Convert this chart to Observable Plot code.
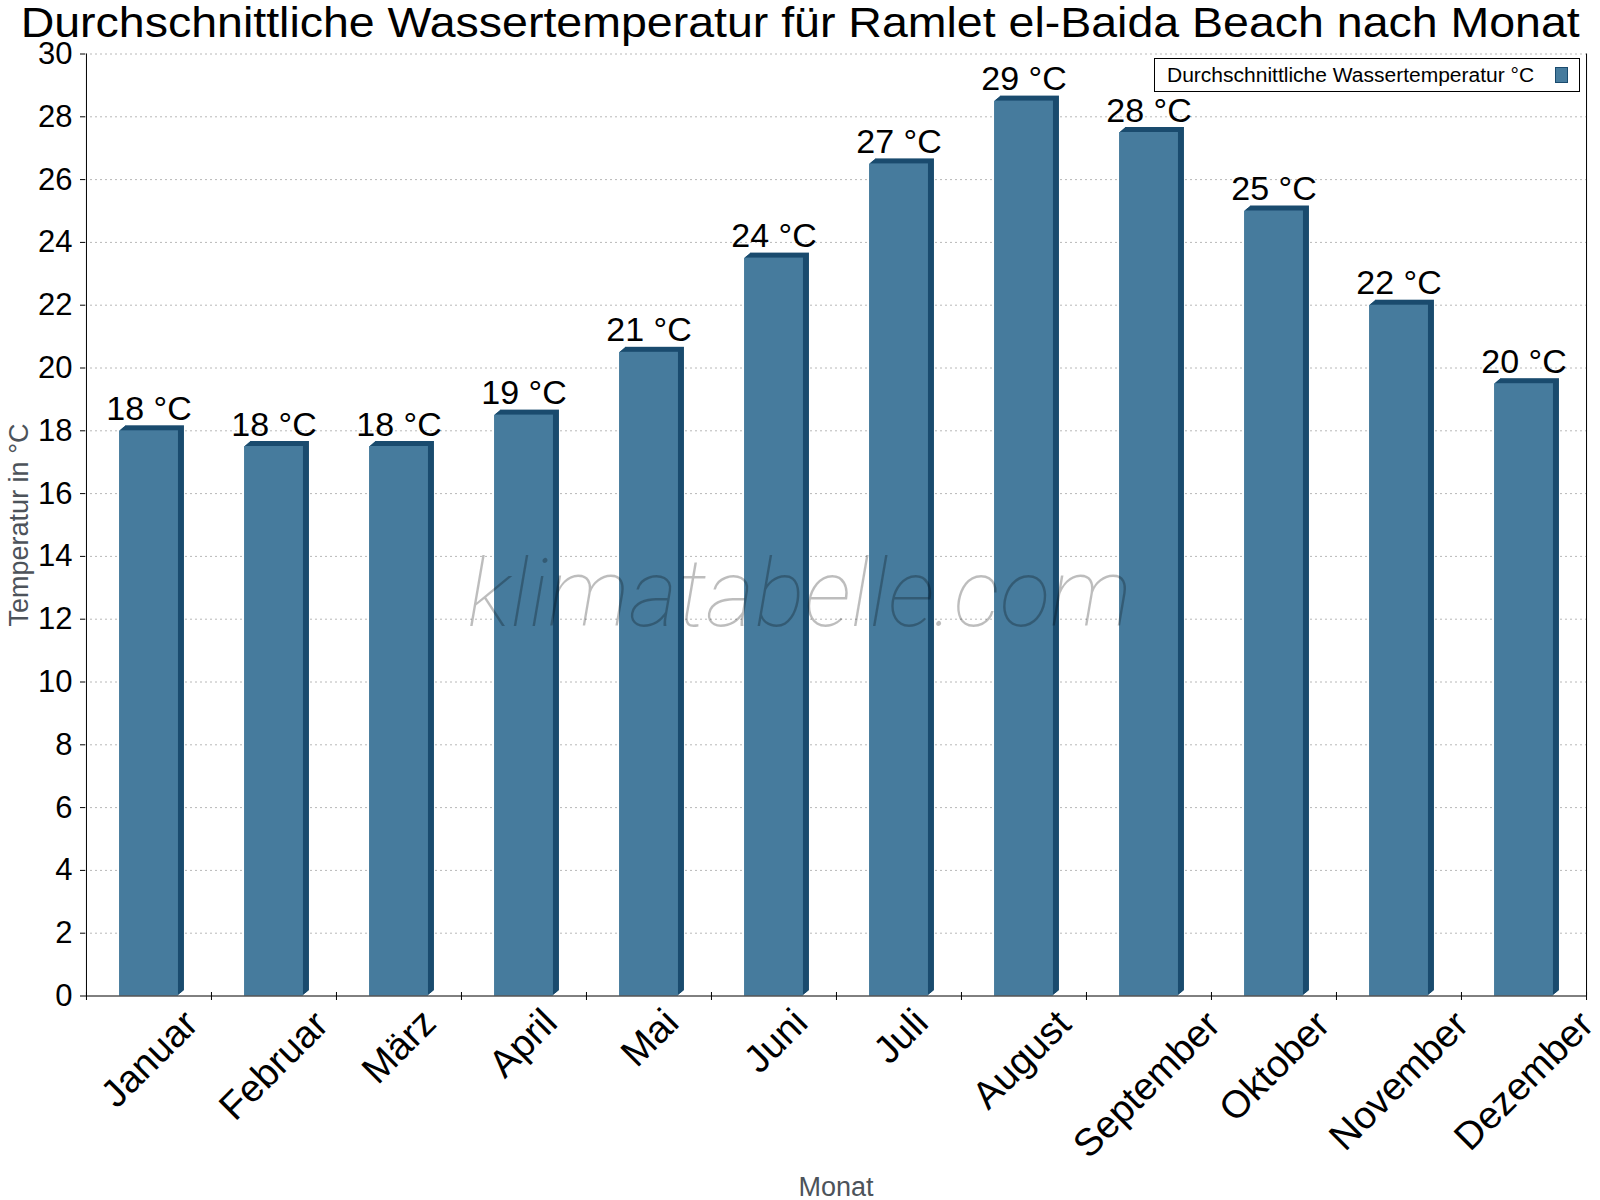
<!DOCTYPE html>
<html><head><meta charset="utf-8">
<script src="https://cdn.jsdelivr.net/npm/d3@7"></script>
<script src="https://cdn.jsdelivr.net/npm/@observablehq/plot@0.6"></script>
<style>
body{margin:0;background:#fff;font-family:"Liberation Sans",Arial,sans-serif;}
#wrap{position:relative;width:1600px;height:1200px;background:#fff}
#title{height:45px;line-height:45px;font-size:42px;text-align:center;white-space:nowrap;color:#000}
#title span{display:inline-block;transform:scaleX(1.107);transform-origin:center}
#legend{position:absolute;left:1154px;top:58px;width:424px;height:32px;line-height:32px;border:1px solid #000;background:#fff;font-size:19.5px;color:#000;white-space:nowrap}
#legend .lt{position:absolute;left:12px;top:0;transform:scaleX(1.077);transform-origin:left}
#legend .sw{position:absolute;left:400px;top:8px;width:11px;height:14px;border:1px solid #1a4b6e;background:#467b9d}
</style></head>
<body>
<div id="wrap">
  <div id="title"><span></span></div>
  <div id="chart"></div>
  <div id="legend"><span class="lt"></span><span class="sw"></span></div>
</div>
<script>
const titleText = "Durchschnittliche Wassertemperatur für Ramlet el-Baida Beach nach Monat";
const seriesName = "Durchschnittliche Wassertemperatur °C";
const months = ["Januar","Februar","März","April","Mai","Juni","Juli","August","September","Oktober","November","Dezember"];
const temps = [18, 17.5, 17.5, 18.5, 20.5, 23.5, 26.5, 28.5, 27.5, 25, 22, 19.5];
const yTicks = [0,2,4,6,8,10,12,14,16,18,20,22,24,26,28,30];
const unit = "°C";
const yLabel = "Temperatur in °C";
const xLabel = "Monat";
const watermark = "klimatabelle.com";

document.querySelector("#title span").textContent = titleText;
document.querySelector("#legend .lt").textContent = seriesName;

const FRONT = "#467b9d", DARK = "#1a4b6e";
const FONT = '"Liberation Sans", Arial, sans-serif';
const W = 1600, H = 1155, mL = 85, mR = 14, mT = 8.5, mB = 204.5;
const step = (W - mL - mR) / months.length;
const barW = 59;
const inset = (step - barW) / 2;
const data = months.map((m, i) => ({month: m, value: temps[i]}));

// measure rotated month labels so that their box top sits just below the axis
const ctx = document.createElement("canvas").getContext("2d");
const XFS = 38.5;
ctx.font = `${XFS}px "Liberation Sans"`;
ctx.textAlign = "center";
const s = Math.SQRT1_2;
function labelOffset(t) {
  const m = ctx.measureText(t);
  const uMin = -m.actualBoundingBoxLeft, uMax = m.actualBoundingBoxRight;
  const yb = 0.32 * XFS;
  const vMin = yb - m.actualBoundingBoxAscent, vMax = yb + m.actualBoundingBoxDescent;
  const minY = s * (vMin - uMax);
  const cx = s * ((uMin + vMin) + (uMax + vMax)) / 2;
  return {dx: -cx, dy: 11 - minY};
}
const labelMarks = months.map(m => {
  const o = labelOffset(m);
  return Plot.text([m], {x: d => d, frameAnchor: "bottom", text: d => d, rotate: -45,
    textAnchor: "middle", lineAnchor: "middle", fontSize: XFS, fill: "#000", dx: o.dx, dy: o.dy});
});

const depthMarks = d3.range(1, 7).map(k => Plot.barY(data, {
  x: "month", y: "value", fill: DARK, insetLeft: inset, insetRight: inset, dx: k, dy: -k * 5 / 6
}));

const chart = Plot.plot({
  width: W, height: H,
  marginLeft: mL, marginRight: mR, marginTop: mT, marginBottom: mB,
  style: {fontFamily: FONT, background: "#fff", color: "#000", overflow: "visible"},
  x: {type: "band", domain: months, padding: 0, axis: null},
  y: {domain: [0, 30]},
  marks: [
    Plot.gridY(yTicks.filter(v => v > 0), {stroke: "#b8b8b8", strokeOpacity: 1, strokeDasharray: "2,3"}),
    ...depthMarks,
    Plot.barY(data, {x: "month", y: "value", fill: FRONT, insetLeft: inset, insetRight: inset}),
    Plot.text(data, {x: "month", y: "value", text: d => `${Math.round(d.value)} ${unit}`,
      dy: -11, lineAnchor: "bottom", fontSize: 34, fill: "#000"}),
    Plot.ruleY([0], {stroke: "#000"}),
    Plot.ruleX([months[0]], {x: d => d, dx: -step / 2, stroke: "#000"}),
    Plot.ruleX([months[months.length - 1]], {x: d => d, dx: step / 2, stroke: "#000"}),
    Plot.ruleX(months, {x: d => d, y1: () => 0, y2: () => 0, dx: -step / 2, insetTop: 4.5, insetBottom: 3.5, stroke: "#000"}),
    Plot.ruleX([months[months.length - 1]], {x: d => d, y1: () => 0, y2: () => 0, dx: step / 2, insetTop: 4.5, insetBottom: 3.5, stroke: "#000"}),
    Plot.axisY({ticks: yTicks, tickSize: 5, tickPadding: 8, fontSize: 31, label: null, tickFormat: d => String(d)}),
    ...labelMarks,
    Plot.text([yLabel], {frameAnchor: "left", dx: -66, rotate: -90, textAnchor: "middle", lineAnchor: "middle",
      fontSize: 27, fill: "#4d535a", text: d => d}),
    Plot.text([xLabel], {frameAnchor: "bottom", dy: 199.5, lineAnchor: "bottom", textAnchor: "middle",
      fontSize: 27, fill: "#4d535a", text: d => d}),
    Plot.text([watermark], {frameAnchor: "middle", dx: -36.5, dy: 100.5, lineAnchor: "bottom", textAnchor: "middle",
      fontSize: 94, fontFamily: "Roboto", fontStyle: "italic", fontWeight: 100, fill: "#000", fillOpacity: 0.26, text: d => d})
  ]
});
document.getElementById("chart").appendChild(chart);
</script>
</body></html>
